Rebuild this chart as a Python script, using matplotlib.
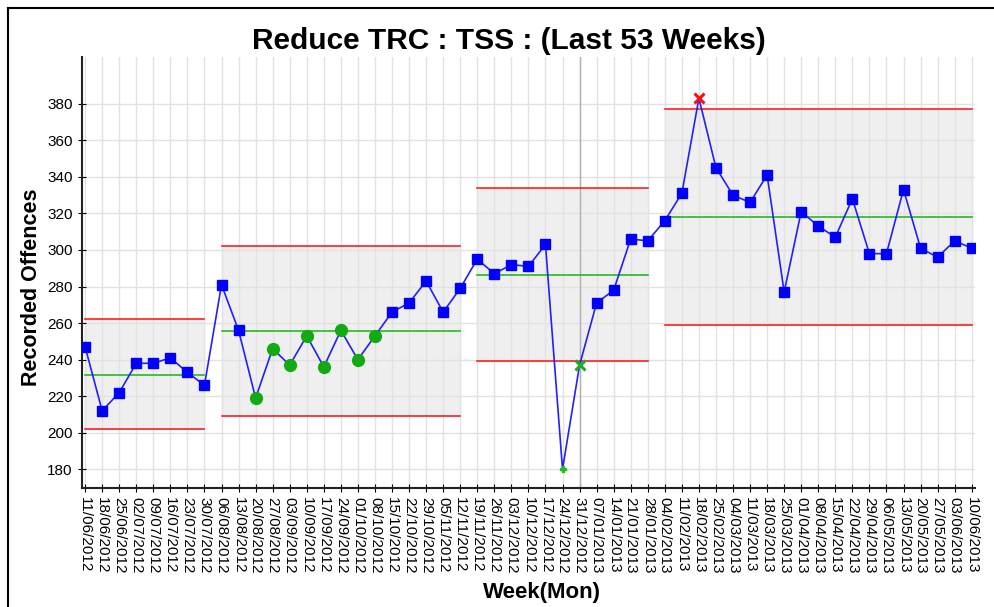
import matplotlib
matplotlib.use('Agg')
import matplotlib.pyplot as plt
from matplotlib.lines import Line2D

plt.rcParams['font.family'] = ['Liberation Sans', 'DejaVu Sans']

# Week commencing (Monday)
weeks = ['11/06/2012', '18/06/2012', '25/06/2012', '02/07/2012', '09/07/2012', '16/07/2012',
         '23/07/2012', '30/07/2012', '06/08/2012', '13/08/2012', '20/08/2012', '27/08/2012',
         '03/09/2012', '10/09/2012', '17/09/2012', '24/09/2012', '01/10/2012', '08/10/2012',
         '15/10/2012', '22/10/2012', '29/10/2012', '05/11/2012', '12/11/2012', '19/11/2012',
         '26/11/2012', '03/12/2012', '10/12/2012', '17/12/2012', '24/12/2012', '31/12/2012',
         '07/01/2013', '14/01/2013', '21/01/2013', '28/01/2013', '04/02/2013', '11/02/2013',
         '18/02/2013', '25/02/2013', '04/03/2013', '11/03/2013', '18/03/2013', '25/03/2013',
         '01/04/2013', '08/04/2013', '15/04/2013', '22/04/2013', '29/04/2013', '06/05/2013',
         '13/05/2013', '20/05/2013', '27/05/2013', '03/06/2013', '10/06/2013']

offences = [247, 212, 222, 238, 238, 241, 233, 226, 281, 256, 219, 246, 237, 253, 236, 256,
            240, 253, 266, 271, 283, 266, 279, 295, 287, 292, 291, 303, 180, 237, 271, 278,
            306, 305, 316, 331, 383, 345, 330, 326, 341, 277, 321, 313, 307, 328, 298, 298,
            333, 301, 296, 305, 301]

# control limit periods: (first week index, last week index, lower, mean, upper)
seg_start = [0, 8, 23, 34]
seg_end = [7, 22, 33, 52]
seg_lcl = [201.9, 209.2, 239.1, 258.9]
seg_mean = [231.6, 255.7, 286.3, 318.0]
seg_ucl = [262.4, 302.2, 333.7, 376.9]

# special-cause points
run_points = [10, 11, 12, 13, 14, 15, 16, 17]
low_point = 28
cross_green = 29
cross_red = 36

fig = plt.figure(figsize=(9.94, 6.07), dpi=100)
ax = fig.add_axes([0.0822, 0.1955, 0.8988, 0.7101])

x = list(range(len(weeks)))

for s, e, lo, mid, hi in zip(seg_start, seg_end, seg_lcl, seg_mean, seg_ucl):
    ax.fill_between([s, e], lo, hi, color='#efefef', zorder=0)
    ax.plot([s, e], [hi, hi], color='#ff2020', lw=1.2, zorder=2)
    ax.plot([s, e], [lo, lo], color='#ff2020', lw=1.2, zorder=2)
    ax.plot([s, e], [mid, mid], color='#22bb22', lw=1.2, zorder=2)

# crosshair
ax.axvline(cross_green, color='#b0b0b0', lw=1.0, zorder=1)

ax.plot(x, offences, color='#2020ff', lw=1.2, zorder=3)

special = set(run_points + [low_point, cross_green, cross_red])
sq_x = [i for i in x if i not in special]
ax.plot(sq_x, [offences[i] for i in sq_x], 's', color='#0000ff', ms=7, ls='none', zorder=4)
ax.plot(run_points, [offences[i] for i in run_points], 'o', color='#11aa11', ms=8.5, ls='none', zorder=4)
ax.plot([low_point], [offences[low_point]], 'P', color='#22bb22', ms=5, ls='none', zorder=4)
ax.plot([cross_green], [offences[cross_green]], 'x', color='#22aa22', ms=7, mew=2.2, ls='none', zorder=4)
ax.plot([cross_red], [offences[cross_red]], 'x', color='#ff1010', ms=7, mew=2.2, ls='none', zorder=4)

ax.set_xlim(-0.2, 52.2)
ax.set_ylim(169.6, 405.4)
ax.set_yticks(range(180, 381, 20))
ax.set_xticks(x)
ax.set_xticklabels(weeks, rotation=270, fontsize=11)
ax.tick_params(axis='y', labelsize=11, direction='inout', length=6)
ax.tick_params(axis='x', direction='inout', length=6, pad=3)

ax.grid(True, color='#e2e2e2', lw=1.0, zorder=0)
ax.set_axisbelow(True)
for side in ['top', 'right']:
    ax.spines[side].set_visible(False)
for side in ['left', 'bottom']:
    ax.spines[side].set_linewidth(1.5)
    ax.spines[side].set_color('#222222')

ax.set_title('Reduce TRC : TSS : (Last 53 Weeks)', fontsize=21.5, fontweight='bold', pad=6, x=0.478)
ax.set_ylabel('Recorded Offences', fontsize=15.5, fontweight='bold')
ax.set_xlabel('Week(Mon)', fontsize=16, fontweight='bold')
ax.yaxis.set_label_coords(-0.045, 0.467)
ax.xaxis.set_label_coords(0.515, -0.217)

# outer frame of the chart panel
fig.add_artist(Line2D([8 / 994, 8 / 994], [0, 1 - 8 / 607], color='black', lw=1.5))
fig.add_artist(Line2D([8 / 994, 1], [1 - 8 / 607, 1 - 8 / 607], color='black', lw=1.5))

fig.savefig('out.png', dpi=100)
